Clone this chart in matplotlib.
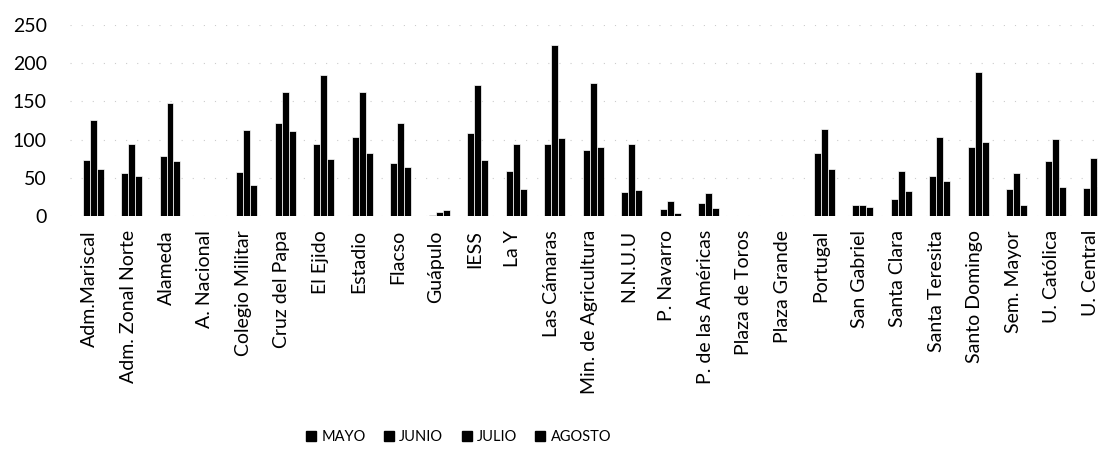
import matplotlib
matplotlib.use("Agg")
import matplotlib.pyplot as plt
from matplotlib.lines import Line2D
import numpy as np

# categories (sites) and monthly counts
sitios = ["Adm.Mariscal", "Adm. Zonal Norte", "Alameda", "A. Nacional",
          "Colegio Militar", "Cruz del Papa", "El Ejido", "Estadio", "Flacso",
          "Guápulo", "IESS", "La Y", "Las Cámaras", "Min. de Agricultura",
          "N.N.U.U", "P. Navarro", "P. de las Américas", "Plaza de Toros",
          "Plaza Grande", "Portugal", "San Gabriel", "Santa Clara",
          "Santa Teresita", "Santo Domingo", "Sem. Mayor", "U. Católica",
          "U. Central"]

mayo = [0] * 27
junio = [74, 57, 79, 0, 58, 122, 95, 103, 69, 2, 109, 59, 95, 86, 31, 9, 17,
         0, 0, 82, 15, 23, 52, 91, 36, 72, 37]
julio = [126, 94, 148, 0, 113, 162, 185, 163, 122, 5, 172, 94, 224, 174, 95,
         20, 30, 0, 0, 114, 15, 59, 104, 189, 56, 101, 76]
agosto = [61, 52, 72, 0, 41, 111, 75, 83, 64, 8, 74, 36, 102, 90, 34, 4, 11,
          0, 0, 62, 12, 33, 46, 97, 15, 38, 40]

meses = ["MAYO", "JUNIO", "JULIO", "AGOSTO"]
series = [mayo, junio, julio, agosto]

plt.rcParams['font.family'] = ['Lato', 'DejaVu Sans']

fig = plt.figure(figsize=(10.98, 4.55), dpi=100)
ax = fig.add_axes([0.064, 0.525, 0.936, 0.42])

x = np.arange(len(sitios))
w = 1 / 5.5
for k, (nombre, vals) in enumerate(zip(meses, series)):
    ax.bar(x + (k - 1.5) * w, vals, width=w, color="black",
           edgecolor="white", linewidth=0.5, label=nombre)

ax.set_ylim(0, 250)
ax.set_yticks(range(0, 251, 50))
ax.set_xlim(-0.5, len(sitios) - 1 + 0.2)
ax.set_xticks(x)
ax.set_xticklabels(sitios, rotation=90, fontsize=14)
ax.tick_params(axis="y", labelsize=14, length=0, pad=17)
ax.tick_params(axis="x", length=0, pad=10)
for s in ax.spines.values():
    s.set_visible(False)
ax.yaxis.grid(True, linestyle=(0, (1, 9)), color="#cccccc", linewidth=0.8)
ax.set_axisbelow(True)

# square legend markers like the original
handles = [Line2D([], [], marker="s", color="black", linestyle="none",
                  markersize=7) for _ in meses]
fig.legend(handles, meses, loc="center", bbox_to_anchor=(0.418, 0.04),
           ncol=4, frameon=False, fontsize=10.5, handlelength=0.6,
           handletextpad=0.4, columnspacing=1.3)

fig.savefig("out.png", dpi=100)
